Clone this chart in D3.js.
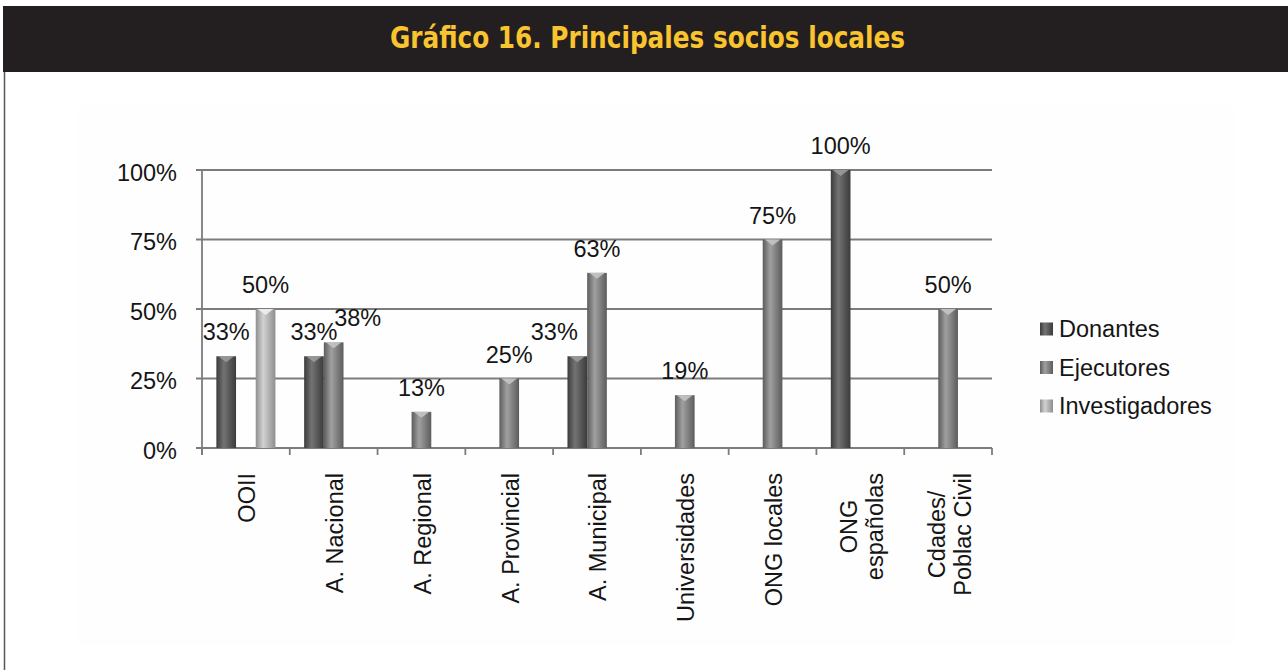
<!DOCTYPE html>
<html>
<head>
<meta charset="utf-8">
<script src="https://cdn.jsdelivr.net/npm/d3@7/dist/d3.min.js"></script>
<style>
  html, body { margin: 0; padding: 0; background: #ffffff; }
  svg { display: block; }
  text { font-family: "Liberation Sans", Arial, sans-serif; fill: #151515; }
</style>
</head>
<body>
<svg id="chart" width="1288" height="670"></svg>
<script>
// ---------- data ----------
const title = "Gráfico 16. Principales socios locales";
const categories = ["OOII", "A. Nacional", "A. Regional", "A. Provincial", "A. Municipal",
                    "Universidades", "ONG locales", "ONG\nespañolas", "Cdades/\nPoblac Civil"];
const seriesNames = ["Donantes", "Ejecutores", "Investigadores"];
const donantes       = [33, 33, null, null, 33, null, null, 100, null];
const ejecutores     = [null, 38, 13, 25, 63, 19, 75, null, 50];
const investigadores = [50, null, null, null, null, null, null, null, null];
const yTicks = [0, 25, 50, 75, 100];
const yTickLabels = ["0%", "25%", "50%", "75%", "100%"];

// ---------- style ----------
const palette = {
  Donantes:       { edge: "#3b3b3b", mid: "#737373", tip: "#9a9a9a" },
  Ejecutores:     { edge: "#5c5c5c", mid: "#a0a0a0", tip: "#c4c4c4" },
  Investigadores: { edge: "#8e8e8e", mid: "#d2d2d2", tip: "#eeeeee" }
};
// label nudges where labels would collide (style only)
const labelNudge = { "A. Nacional|Ejecutores": 24, "A. Municipal|Donantes": -23 };

const svg = d3.select("#chart");
const W = 1288, H = 670;
const FS = 23.5;

// defs: gradients
const defs = svg.append("defs");
seriesNames.forEach((s, i) => {
  const g = defs.append("linearGradient").attr("id", "g" + i)
    .attr("x1", 0).attr("x2", 1).attr("y1", 0).attr("y2", 0);
  g.append("stop").attr("offset", "0%").attr("stop-color", palette[s].edge);
  g.append("stop").attr("offset", "38%").attr("stop-color", palette[s].mid);
  g.append("stop").attr("offset", "100%").attr("stop-color", palette[s].edge);
});

// title bar
svg.append("rect").attr("x", 3).attr("y", 6).attr("width", W - 3).attr("height", 66).attr("fill", "#231f20");
svg.append("text").attr("x", 390).attr("y", 48)
  .attr("textLength", 515).attr("lengthAdjust", "spacingAndGlyphs")
  .style("font-family", "'DejaVu Sans', sans-serif")
  .style("font-weight", "bold").style("font-size", "30px").style("fill", "#f9c42e")
  .text(title);

// left frame line
svg.append("line").attr("x1", 4.5).attr("x2", 4.5).attr("y1", 72).attr("y2", H)
  .attr("stroke", "#555").attr("stroke-width", 1.5);

// faint chart background
svg.append("rect").attr("x", 78).attr("y", 106).attr("width", 1156).attr("height", 539).attr("fill", "#fefefe");

// scales
const x = d3.scaleBand().domain(categories).range([202, 992]).paddingInner(0).paddingOuter(0);
const xs = d3.scaleBand().domain(seriesNames).range([0, x.bandwidth()]).paddingInner(0).paddingOuter(0.73);
const y = d3.scaleLinear().domain([0, 100]).range([448, 170]);

// gridlines
svg.append("g").selectAll("line").data(yTicks).join("line")
  .attr("x1", 196).attr("x2", 992)
  .attr("y1", d => y(d)).attr("y2", d => y(d))
  .attr("stroke", "#7c7c7c").attr("stroke-width", 1.8);
// y axis line
svg.append("line").attr("x1", 202).attr("x2", 202).attr("y1", y(100)).attr("y2", 455)
  .attr("stroke", "#7c7c7c").attr("stroke-width", 1.8);
// x ticks at category boundaries
const bounds = categories.map(c => x(c)).concat([x.range()[1]]);
svg.append("g").selectAll("line").data(bounds).join("line")
  .attr("x1", d => d).attr("x2", d => d).attr("y1", 448).attr("y2", 455)
  .attr("stroke", "#7c7c7c").attr("stroke-width", 1.8);

// y labels
svg.append("g").selectAll("text").data(yTicks).join("text")
  .attr("x", 177).attr("y", d => y(d)).attr("dy", "0.45em")
  .attr("text-anchor", "end").style("font-size", FS + "px")
  .text((d, i) => yTickLabels[i]);

// bars
const seriesValues = [donantes, ejecutores, investigadores];
const barData = [];
categories.forEach((c, ci) => {
  seriesNames.forEach((s, si) => {
    const v = seriesValues[si][ci];
    if (v !== null && v !== undefined) barData.push({ c, s, si, v });
  });
});
const bw = xs.bandwidth();
const bars = svg.append("g");
bars.selectAll("rect").data(barData).join("rect")
  .attr("x", d => x(d.c) + xs(d.s))
  .attr("y", d => y(d.v))
  .attr("width", bw)
  .attr("height", d => y(0) - y(d.v))
  .attr("fill", d => "url(#g" + d.si + ")");
bars.selectAll("path").data(barData).join("path")
  .attr("d", d => {
    const x0 = x(d.c) + xs(d.s), yt = y(d.v);
    return `M${x0 + 2},${yt} L${x0 + bw - 2},${yt} L${x0 + bw / 2},${yt + 6} Z`;
  })
  .attr("fill", d => palette[d.s].tip).attr("opacity", 0.9);

// value labels
svg.append("g").selectAll("text").data(barData).join("text")
  .attr("x", d => x(d.c) + xs(d.s) + bw / 2 + (labelNudge[d.c + "|" + d.s] || 0))
  .attr("y", d => y(d.v) - 16)
  .attr("text-anchor", "middle").style("font-size", FS + "px")
  .text(d => d.v + "%");

// category labels (rotated)
const catG = svg.append("g");
categories.forEach(c => {
  const lines = c.split("\n");
  const cx = x(c) + x.bandwidth() / 2;
  const g = catG.append("g");
  const texts = lines.map(l => g.append("text").style("font-size", FS + "px").attr("text-anchor", "middle").text(l));
  const maxLen = d3.max(texts, tt => tt.node().getComputedTextLength());
  const n = lines.length;
  texts.forEach((tt, i) => {
    const base = cx + 0.4 * FS + (i - (n - 1) / 2) * 26;
    const mid = 473 + maxLen / 2;
    tt.attr("transform", `translate(${base},${mid}) rotate(-90)`);
  });
});

// legend
const lg = svg.append("g");
seriesNames.forEach((s, i) => {
  const cy = 329 + i * 38.5;
  lg.append("rect").attr("x", 1040).attr("y", cy - 6.5).attr("width", 13).attr("height", 13)
    .attr("fill", "url(#g" + i + ")");
  lg.append("text").attr("x", 1059).attr("y", cy).attr("dy", "0.36em")
    .style("font-size", FS + "px").text(s);
});
</script>
</body>
</html>
